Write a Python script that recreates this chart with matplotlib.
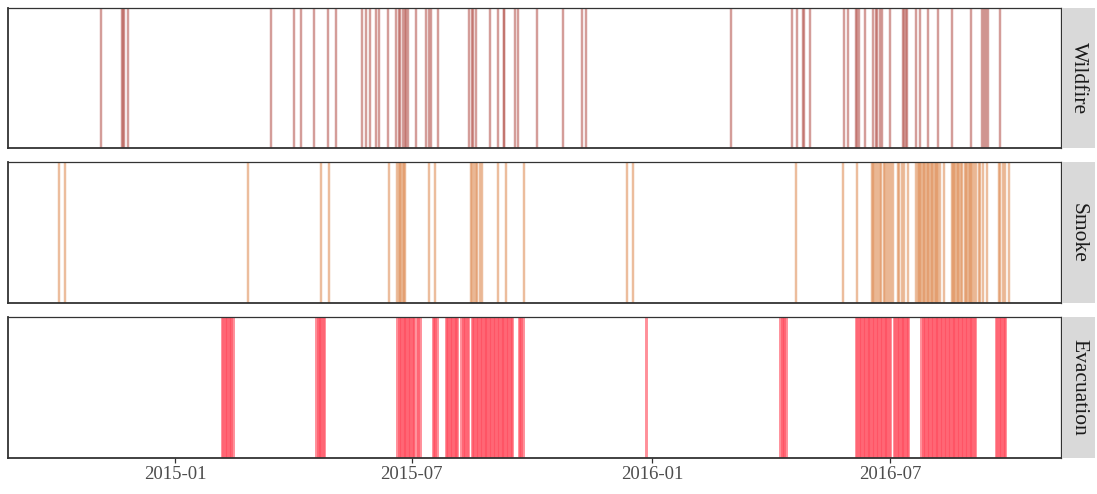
import matplotlib
matplotlib.use("Agg")
import matplotlib.pyplot as plt
import matplotlib.dates as mdates
import pandas as pd

# ---- data ----
panels = ["Wildfire", "Smoke", "Evacuation"]

wildfire_dates = [
    "2014-11-05", "2014-11-21", "2014-11-22", "2014-11-23", "2014-11-26",
    "2015-03-15", "2015-04-02", "2015-04-07", "2015-04-17", "2015-04-28",
    "2015-05-04", "2015-05-24", "2015-05-27", "2015-05-30", "2015-06-04",
    "2015-06-06", "2015-06-13", "2015-06-19", "2015-06-21", "2015-06-22",
    "2015-06-24", "2015-06-26", "2015-06-27", "2015-06-28", "2015-07-04",
    "2015-07-12", "2015-07-14", "2015-07-16", "2015-07-21", "2015-08-14",
    "2015-08-16", "2015-08-17", "2015-08-19", "2015-08-30", "2015-09-05",
    "2015-09-10", "2015-09-10", "2015-09-18", "2015-09-20", "2015-10-05",
    "2015-10-25", "2015-11-08", "2015-11-11", "2016-03-01", "2016-04-17",
    "2016-04-21", "2016-04-25", "2016-04-26", "2016-05-01", "2016-05-27",
    "2016-05-30", "2016-06-05", "2016-06-06", "2016-06-07", "2016-06-12",
    "2016-06-18", "2016-06-20", "2016-06-21", "2016-06-23", "2016-06-25",
    "2016-07-01", "2016-07-11", "2016-07-12", "2016-07-13", "2016-07-14",
    "2016-07-21", "2016-07-24", "2016-07-30", "2016-08-07", "2016-08-17",
    "2016-09-01", "2016-09-09", "2016-09-11", "2016-09-12", "2016-09-14",
    "2016-09-23",
]

# smoke days given as (first day, last day) periods
smoke_periods = [
    ("2014-10-04", "2014-10-04"), ("2014-10-09", "2014-10-09"),
    ("2015-02-26", "2015-02-26"), ("2015-04-23", "2015-04-23"),
    ("2015-04-29", "2015-04-29"), ("2015-06-14", "2015-06-14"),
    ("2015-06-20", "2015-06-26"), ("2015-07-14", "2015-07-14"),
    ("2015-07-19", "2015-07-19"), ("2015-08-15", "2015-08-16"),
    ("2015-08-18", "2015-08-20"), ("2015-08-22", "2015-08-22"),
    ("2015-08-24", "2015-08-24"), ("2015-09-05", "2015-09-05"),
    ("2015-09-11", "2015-09-11"), ("2015-09-25", "2015-09-25"),
    ("2015-12-13", "2015-12-13"), ("2015-12-17", "2015-12-17"),
    ("2016-04-20", "2016-04-20"), ("2016-05-26", "2016-05-26"),
    ("2016-06-06", "2016-06-06"), ("2016-06-17", "2016-06-20"),
    ("2016-06-22", "2016-06-24"), ("2016-06-26", "2016-06-27"),
    ("2016-06-29", "2016-06-30"), ("2016-07-02", "2016-07-03"),
    ("2016-07-07", "2016-07-08"), ("2016-07-10", "2016-07-10"),
    ("2016-07-12", "2016-07-12"), ("2016-07-15", "2016-07-15"),
    ("2016-07-21", "2016-08-08"), ("2016-08-11", "2016-08-11"),
    ("2016-08-17", "2016-08-25"), ("2016-08-27", "2016-09-03"),
    ("2016-09-05", "2016-09-05"), ("2016-09-07", "2016-09-08"),
    ("2016-09-10", "2016-09-10"), ("2016-09-13", "2016-09-13"),
    ("2016-09-22", "2016-09-23"), ("2016-09-25", "2016-09-25"),
    ("2016-09-27", "2016-09-27"), ("2016-09-30", "2016-09-30"),
]

evacuation_periods = [
    ("2015-02-06", "2015-02-14"), ("2015-04-19", "2015-04-25"),
    ("2015-06-20", "2015-07-03"), ("2015-07-05", "2015-07-07"),
    ("2015-07-17", "2015-07-20"), ("2015-07-27", "2015-08-05"),
    ("2015-08-08", "2015-08-13"), ("2015-08-16", "2015-09-16"),
    ("2015-09-21", "2015-09-24"), ("2015-12-27", "2015-12-27"),
    ("2016-04-08", "2016-04-12"), ("2016-06-05", "2016-07-01"),
    ("2016-07-04", "2016-07-15"), ("2016-07-25", "2016-09-04"),
    ("2016-09-20", "2016-09-27"),
]

tick_dates = ["2015-01-01", "2015-07-01", "2016-01-01", "2016-07-01"]
tick_labels = ["2015-01", "2015-07", "2016-01", "2016-07"]

colors = {"Wildfire": "#B85C55", "Smoke": "#E0915C", "Evacuation": "#FF4A5B"}
alphas = {"Wildfire": 0.6, "Smoke": 0.6, "Evacuation": 0.62}
widths = {"Wildfire": 1.75, "Smoke": 1.75, "Evacuation": 2.1}


def expand(periods):
    out = []
    for a, b in periods:
        out.extend(pd.date_range(a, b, freq="D"))
    return out


series = {
    "Wildfire": pd.to_datetime(wildfire_dates),
    "Smoke": pd.DatetimeIndex(expand(smoke_periods)),
    "Evacuation": pd.DatetimeIndex(expand(evacuation_periods)),
}

# ---- figure ----
W, H = 1097, 494
plt.rcParams["font.family"] = ["Liberation Serif", "DejaVu Serif"]
fig = plt.figure(figsize=(W / 100, H / 100), dpi=100)

panel_px = [(8, 148), (162, 303), (317, 458)]
x0_px, x1_px = 8, 1061
strip_x0, strip_x1 = 1062, 1095

# x limits (ggplot-like expansion around data)
t0 = mdates.date2num(pd.Timestamp("2014-08-26 04:00"))
t1 = mdates.date2num(pd.Timestamp("2016-11-08 18:00"))

for name, (ytop, ybot) in zip(panels, panel_px):
    ax = fig.add_axes([x0_px / W, (H - ybot) / H, (x1_px - x0_px) / W, (ybot - ytop) / H])
    d = mdates.date2num(series[name])
    ax.vlines(d, 0, 1, colors=colors[name], alpha=alphas[name], linewidth=widths[name])
    ax.set_xlim(t0, t1)
    ax.set_ylim(0, 1)
    ax.set_yticks([])
    for s in ["top", "right"]:
        ax.spines[s].set_color("#333333")
        ax.spines[s].set_linewidth(0.9)
    for s in ["left", "bottom"]:
        ax.spines[s].set_color("#333333")
        ax.spines[s].set_linewidth(1.3)
    ax.set_xticks(mdates.date2num(pd.to_datetime(tick_dates)))
    if name == panels[-1]:
        ax.set_xticklabels(tick_labels, fontsize=13.5, color="#4D4D4D")
        ax.tick_params(axis="x", length=3.5, width=0.9, color="#333333", pad=2)
    else:
        ax.tick_params(axis="x", length=0, labelbottom=False)

    sax = fig.add_axes([strip_x0 / W, (H - ybot) / H, (strip_x1 - strip_x0) / W, (ybot - ytop) / H])
    sax.set_facecolor("#D9D9D9")
    sax.set_xticks([])
    sax.set_yticks([])
    for s in sax.spines.values():
        s.set_visible(False)
    sax.text(0.5, 0.5, name, rotation=-90, ha="center", va="center",
             fontsize=15.5, color="#1A1A1A", transform=sax.transAxes)

fig.savefig("out.png", dpi=100)
